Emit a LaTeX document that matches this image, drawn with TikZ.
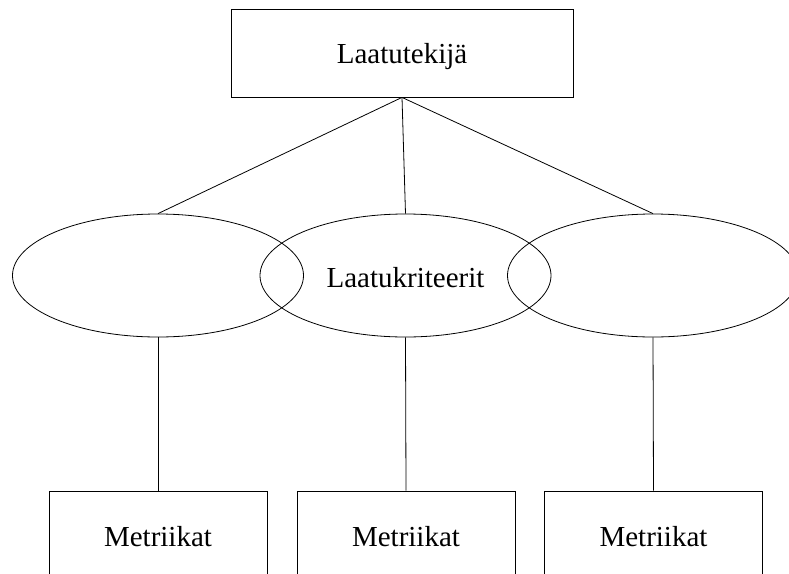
\documentclass[tikz,border=0pt]{standalone}
\usepackage{fontspec}
\setmainfont{Liberation Serif}
\usetikzlibrary{shapes.geometric}
\tikzset{
  box/.style={draw, rectangle, inner sep=0pt, text depth=0pt},
  oval/.style={draw, ellipse, inner sep=0pt, minimum width=291pt, minimum height=123pt, text depth=0pt},
  metric/.style={box, minimum width=218pt, minimum height=92pt, text height=18pt},
  link/.style={draw, line width=0.8pt},
}
\begin{document}
\begin{tikzpicture}[x=1pt, y=-1pt, line width=0.8pt,
  font=\fontsize{29}{35}\selectfont]
\clip (0,0) rectangle (789,573);
\fill[white] (0,0) rectangle (789,573);

% quality factor
\node[box, minimum width=342pt, minimum height=88pt, text height=20pt] (factor) at (402,53) {Laatutekijä};

% quality criteria
\node[oval] (crit1) at (158,275.5) {};
\node[oval, text height=23pt] (crit2) at (405.5,275.5) {Laatukriteerit};
\node[oval] (crit3) at (653,275.5) {};

% metrics
\node[metric] (met1) at (158,537) {Metriikat};
\node[metric] (met2) at (406,537) {Metriikat};
\node[metric] (met3) at (653.5,537) {Metriikat};

% connectors
\draw[link] (factor.south) -- (crit1.north);
\draw[link] (factor.south) -- (crit2.north);
\draw[link] (factor.south) -- (crit3.north);
\draw[link] (crit1.south) -- (met1.north);
\draw[link] (crit2.south) -- (met2.north);
\draw[link] (crit3.south) -- (met3.north);
\end{tikzpicture}
\end{document}
